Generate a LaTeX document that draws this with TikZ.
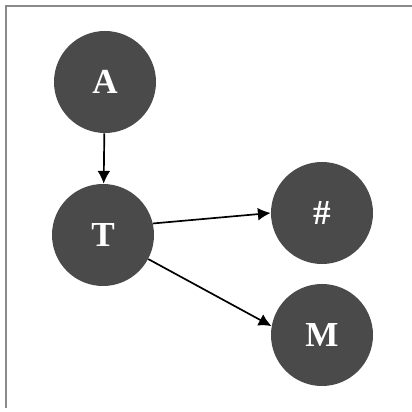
\documentclass[tikz,border=0pt]{standalone}
\usepackage{fontspec}
\setmainfont{Liberation Serif}
\usetikzlibrary{arrows.meta}
\definecolor{nodegray}{HTML}{4A4A4A}
\definecolor{framegray}{HTML}{8A8A8A}
\tikzset{
	state/.style={circle, fill=nodegray, minimum size=2.55cm, inner sep=0pt, text=white, font=\fontsize{25}{30}\selectfont\bfseries},
	edge/.style={-{Latex[length=3.2mm,width=3.2mm]}, line width=1.2pt}
}

\begin{document}
\begin{tikzpicture}
			%%%%% START %%%%%
			\useasboundingbox (0, 0) rectangle (10.3, 10.3);
			\draw[framegray, line width=0.8pt] (0.15, 0.1) -- (0.15, 10.15) -- (10.3, 10.15);
			
			\node[state] (A) at (2.625, 8.25) {A};
			\node[state] (T) at (2.575, 4.425) {T};
			\node[state] (H) at (8.05, 4.975) {\#};
			\node[state] (M) at (8.05, 1.925) {M};
			
			\draw[edge] (A) -- (T);
			\draw[edge] (T.13) -- (H.180);
			\draw[edge] (T.-28) -- (M.170);
			%%%%% END %%%%%
		\end{tikzpicture}
\end{document}
